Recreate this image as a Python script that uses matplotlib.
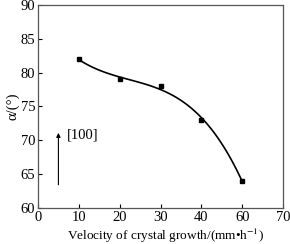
import numpy as np
import matplotlib
matplotlib.use('Agg')
import matplotlib.pyplot as plt

# axis tick labels as printed (the original axis skips 50)
x_ticklabels = ['0', '10', '20', '30', '40', '60', '70']
velocity = ['10', '20', '30', '40', '60']
alpha = [82, 79, 78, 73, 64]

plt.rcParams['font.family'] = ['Liberation Serif', 'DejaVu Serif']
plt.rcParams['font.size'] = 10.5
plt.rcParams['mathtext.fontset'] = 'stix'

fig = plt.figure(figsize=(2.9, 2.44), dpi=100)
ax = fig.add_axes([0.131, 0.148, 0.845, 0.832])

# points sit on the tick positions of their labels
xpos = [x_ticklabels.index(v) for v in velocity]

# smooth fitted curve through the data
coef = np.polyfit(xpos, alpha, 3)
xs = np.linspace(xpos[0], xpos[-1], 100)
ax.plot(xs, np.polyval(coef, xs), color='black', lw=1.2)
ax.plot(xpos, alpha, 's', color='black', ms=3.5)

# growth direction arrow
ax.annotate('', xy=(0.5, 71.5), xytext=(0.5, 63),
            arrowprops=dict(arrowstyle='-|>', color='black', lw=0.8,
                            mutation_scale=6))
ax.text(0.7, 70.7, '[100]', va='center', ha='left')

ax.set_xlim(0, 6)
ax.set_ylim(60, 90)
ax.set_xticks(range(len(x_ticklabels)))
ax.set_xticklabels(x_ticklabels)
ax.set_yticks(range(60, 91, 5))
ax.tick_params(direction='in', length=3, width=0.8, pad=2)
for s in ax.spines.values():
    s.set_color('#555555')
    s.set_linewidth(0.9)

ax.set_xlabel('Velocity of crystal growth/(mm•h$^{-1}$)', fontsize=9.5)
ax.xaxis.set_label_coords(0.52, -0.095)
ax.set_ylabel('α/(°)', labelpad=1)

plt.savefig('out.png', dpi=100)
